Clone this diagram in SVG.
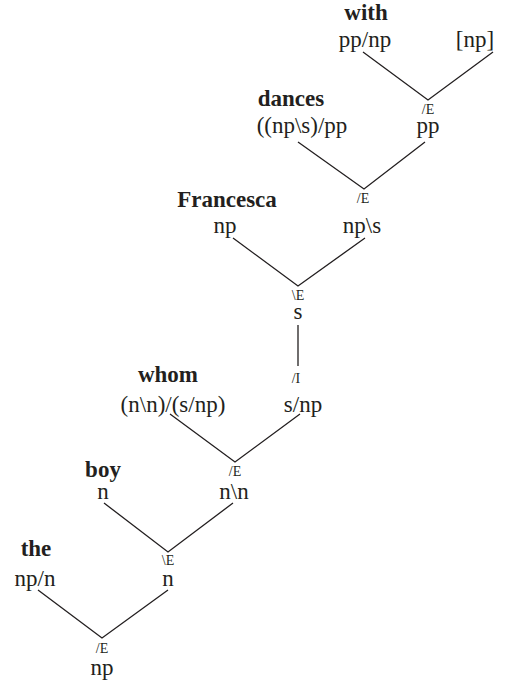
<svg xmlns="http://www.w3.org/2000/svg" width="514" height="685" viewBox="0 0 514 685">
<style>
text{font-family:"Liberation Serif","Times New Roman",serif;fill:#231f20;text-anchor:middle}
.w{font-weight:bold;font-size:23px}
.t{font-size:23px}
.r{font-size:14px}
.c{fill:none;stroke:#231f20;stroke-width:1.3}
</style>
<rect width="514" height="685" fill="#fff"/>
<g id="connectors">
<polyline class="c" points="363,52 428,100 493,52"/>
<polyline class="c" points="298,142 364,189 425,142"/>
<polyline class="c" points="233,238 298,286 365,238"/>
<line class="c" x1="298" y1="325" x2="298" y2="366"/>
<polyline class="c" points="170,414 235,462 300,414"/>
<polyline class="c" points="104,503 168,552 233,503"/>
<polyline class="c" points="38,590 102,638 168,590"/>
</g>
<g id="with"><text class="w" x="366" y="20">with</text><text class="t" x="365" y="47">pp/np</text></g>
<g id="hyp-np"><text class="t" x="475" y="47">[np]</text></g>
<g id="pp"><text class="r" x="428" y="114">/E</text><text class="t" x="428" y="133">pp</text></g>
<g id="dances"><text class="w" x="291" y="106">dances</text><text class="t" x="302" y="133">((np\s)/pp</text></g>
<g id="np-s"><text class="r" x="363" y="203">/E</text><text class="t" x="362" y="233">np\s</text></g>
<g id="francesca"><text class="w" x="227" y="207">Francesca</text><text class="t" x="225" y="233">np</text></g>
<g id="s"><text class="r" x="298" y="300">\E</text><text class="t" x="298" y="319">s</text></g>
<g id="s-np"><text class="r" x="296" y="383">/I</text><text class="t" x="303" y="412">s/np</text></g>
<g id="whom"><text class="w" x="168" y="382">whom</text><text class="t" x="173" y="412">(n\n)/(s/np)</text></g>
<g id="n-n"><text class="r" x="235" y="476">/E</text><text class="t" x="234" y="499">n\n</text></g>
<g id="boy"><text class="w" x="103" y="477">boy</text><text class="t" x="103" y="499">n</text></g>
<g id="n"><text class="r" x="168" y="565">\E</text><text class="t" x="168" y="586">n</text></g>
<g id="the"><text class="w" x="36" y="556">the</text><text class="t" x="35" y="586">np/n</text></g>
<g id="np"><text class="r" x="102" y="653">/E</text><text class="t" x="102" y="675">np</text></g>
</svg>
